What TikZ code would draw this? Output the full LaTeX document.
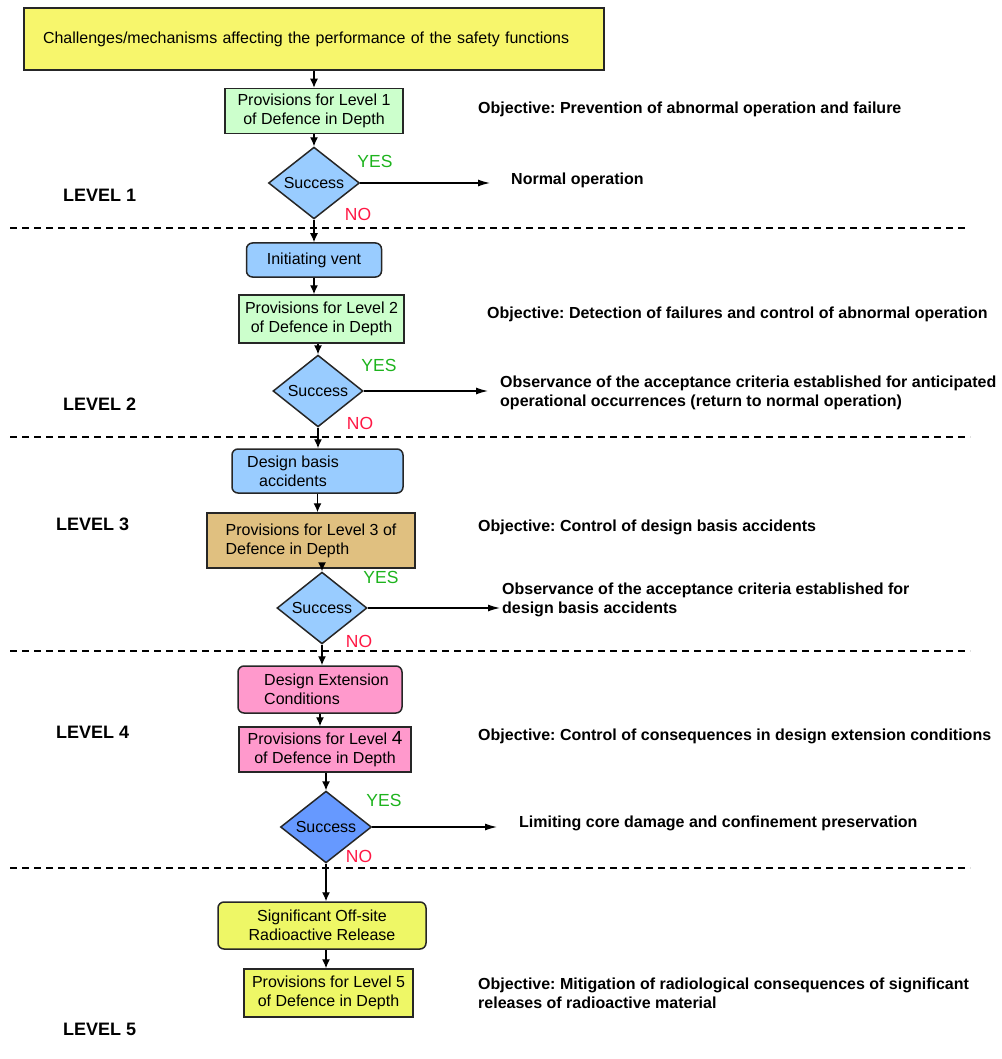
\documentclass[tikz,border=0pt]{standalone}
\usepackage{fontspec}
\setmainfont{Liberation Sans}
\usetikzlibrary{shapes.geometric,arrows.meta,calc}
\definecolor{ctop}{HTML}{F7F66C}
\definecolor{cgreen}{HTML}{CCFFCC}
\definecolor{cblue}{HTML}{99CCFF}
\definecolor{ctan}{HTML}{E0C080}
\definecolor{cpink}{HTML}{FF99CC}
\definecolor{cdblue}{HTML}{6699FF}
\definecolor{cyel}{HTML}{EEF766}
\definecolor{cyes}{HTML}{1DB31D}
\definecolor{cno}{HTML}{FF1744}
\newcommand\mybxfont{\fontsize{16}{19}\selectfont}
\newcommand\myobjfont{\fontsize{16}{19}\selectfont\bfseries}
\newcommand\mylvlfont{\fontsize{18}{21}\selectfont\bfseries}
\newcommand\myynfont{\fontsize{17.5}{20}\selectfont}
\frenchspacing
\begin{document}
\begin{tikzpicture}[x=1pt,y=-1pt,
  box/.style={draw=black!85, line width=1.5pt, inner sep=2pt, align=center, font=\mybxfont},
  rbox/.style={box, rounded corners=6pt},
  dia/.style={diamond, draw=black!85, line width=1.5pt, fill=cblue, inner sep=0pt, font=\mybxfont},
  txt/.style={inner sep=0pt, align=left, font=\mybxfont},
  arr/.style={-{Latex[length=9pt,width=8pt]}, line width=1.3pt},
  harr/.style={-{Latex[length=12pt,width=7pt]}, line width=1.2pt},
  obj/.style={anchor=west, inner sep=0pt, align=left, font=\myobjfont},
  lvl/.style={anchor=west, inner sep=0pt, font=\mylvlfont},
  yeslbl/.style={inner sep=0pt, text=cyes, font=\myynfont},
  nolbl/.style={inner sep=0pt, text=cno, font=\myynfont},
  sepline/.style={dash pattern=on 7pt off 5pt, line width=2pt}
]
\useasboundingbox (0,0) rectangle (1001,1059);

% separators
\draw[sepline] (10,228) -- (968,228);
\draw[sepline] (10,437) -- (970,437);
\draw[sepline] (10,651) -- (970,651);
\draw[sepline] (10,868) -- (970,868);

% top
\node[box, fill=ctop, minimum width=580pt, minimum height=62pt, text width=542pt, inner xsep=19pt, align=left] (top) at (314,39) {Challenges/mechanisms affecting the performance of the safety functions};

% level 1
\node[box, fill=cgreen, minimum width=178pt, minimum height=45pt] (p1) at (314,111) {Provisions for Level 1\\of Defence in Depth};
\node[dia, minimum width=91pt, minimum height=70pt] (d1) at (314,183) {Success};
\coordinate (e1) at (490,183);
\node[yeslbl] (yes1) at (375,161) {YES};
\node[nolbl] (no1) at (358,214) {NO};

% level 2
\node[rbox, fill=cblue, minimum width=135pt, minimum height=34pt] (iv) at (314,260) {Initiating vent};
\node[box, fill=cgreen, minimum width=165pt, minimum height=48pt] (p2) at (321.5,319) {Provisions for Level 2\\of Defence in Depth};
\node[dia, minimum width=90pt, minimum height=70pt] (d2) at (318,391) {Success};
\coordinate (e2) at (488,391);
\node[yeslbl] (yes2) at (379,365) {YES};
\node[nolbl] (no2) at (360,423) {NO};

% level 3
\node[rbox, fill=cblue, minimum width=171pt, minimum height=44pt] (dba) at (317.5,471) {};
\node[txt, align=center] (dbat) at (293,471) {Design basis\\accidents};
\node[box, fill=ctan, minimum width=208pt, minimum height=55pt, align=left] (p3) at (311,540.5) {Provisions for Level 3 of\\Defence in Depth};
\node[dia, minimum width=90pt, minimum height=70pt] (d3) at (322,608) {Success};
\coordinate (e3) at (500,608);
\node[yeslbl] (yes3) at (381,577) {YES};
\node[nolbl] (no3) at (359,641) {NO};

% level 4
\node[rbox, fill=cpink, minimum width=164pt, minimum height=47pt] (dec) at (320,689.5) {};
\node[txt, anchor=west] (dect) at (264,689.5) {Design Extension\\Conditions};
\node[box, fill=cpink, minimum width=172pt, minimum height=45pt] (p4) at (325,749.5) {Provisions for Level {\fontsize{19}{19}\selectfont 4}\\of Defence in Depth};
\node[dia, fill=cdblue, minimum width=91pt, minimum height=71pt] (d4) at (326,827) {Success};
\coordinate (e4) at (497,827);
\node[yeslbl] (yes4) at (384,800) {YES};
\node[nolbl] (no4) at (359,856) {NO};

% level 5
\node[rbox, fill=cyel, minimum width=208pt, minimum height=47pt] (sig) at (322,925.5) {Significant Off-site\\Radioactive Release};
\node[box, fill=cyel, minimum width=169pt, minimum height=48pt] (p5) at (328.5,993) {Provisions for Level 5\\of Defence in Depth};

% connectors
\draw[arr] (top.south -| p1.north) -- (p1.north);
\draw[arr] (p1) -- (d1);
\draw[harr] (d1.east) -- (e1);
\draw[arr] (d1.south) -- (iv.north);
\draw[arr] (iv.south) -- (iv.south |- p2.north);
\draw[arr] (d2.north |- p2.south) -- (d2.north);
\draw[harr] (d2.east) -- (e2);
\draw[arr] (d2.south) -- (d2.south |- dba.north);
\draw[arr] (dba.south) -- (dba.south |- p3.north);
\draw[arr] (d3.north |- p3.south) -- (d3.north);
\draw[harr] (d3.east) -- (e3);
\draw[arr] (d3.south) -- (d3.south |- dec.north);
\draw[arr] (dec.south) -- (dec.south |- p4.north);
\draw[arr] (d4.north |- p4.south) -- (d4.north);
\draw[harr] (d4.east) -- (e4);
\draw[arr] (d4.south) -- (d4.south |- sig.north);
\draw[arr] (d4.south |- sig.south) -- (d4.south |- p5.north);

% right texts
\node[obj] (o1) at (478,109) {Objective: Prevention of abnormal operation and failure};
\node[obj] (r1) at (511,180) {Normal operation};
\node[obj] (o2) at (487,314) {Objective: Detection of failures and control of abnormal operation};
\node[obj] (r2) at (500,393) {Observance of the acceptance criteria established for anticipated\\operational occurrences (return to normal operation)};
\node[obj] (o3) at (478,527) {Objective: Control of design basis accidents};
\node[obj] (r3) at (502,600) {Observance of the acceptance criteria established for\\design basis accidents};
\node[obj] (o4) at (478,736) {Objective: Control of consequences in design extension conditions};
\node[obj] (r4) at (519,823) {Limiting core damage and confinement preservation};
\node[obj] (o5) at (478,993) {Objective: Mitigation of radiological consequences of significant\\releases of radioactive material};

% level labels
\node[lvl] (l1) at (63,195) {LEVEL 1};
\node[lvl] (l2) at (63,404) {LEVEL 2};
\node[lvl] (l3) at (56,524) {LEVEL 3};
\node[lvl] (l4) at (56,732) {LEVEL 4};
\node[lvl] (l5) at (63,1029) {LEVEL 5};
\end{tikzpicture}
\end{document}
